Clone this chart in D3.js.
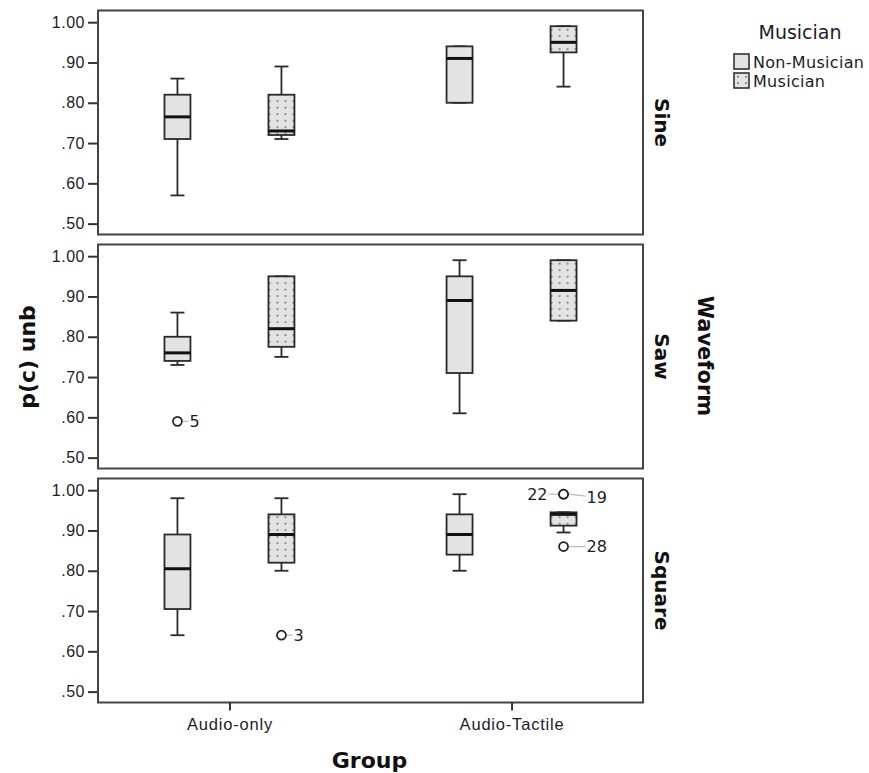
<!DOCTYPE html>
<html lang="en">
<head>
<meta charset="UTF-8">
<title>p(c) unb by Group, Musician and Waveform</title>
<script src="https://d3js.org/d3.v7.min.js"></script>
<style>
body { margin: 0; background: #fff; }
svg { display: block; font-family: "DejaVu Sans", sans-serif; }
.tick-label { font-size: 16px; fill: #1c1c2a; }
.x-label { font-size: 16.5px; letter-spacing: 0.8px; fill: #1c1c2a; }
.axis-title { font-size: 22px; font-weight: bold; fill: #111; }
.panel-title { font-size: 20px; font-weight: bold; fill: #111; }
</style>
</head>
<body>
<svg width="869" height="773"></svg>
<script>
// chart data
const waveforms = ["Sine", "Saw", "Square"];
const groups = ["Audio-only", "Audio-Tactile"];
const musicians = ["Non-Musician", "Musician"];
const yTicks = [0.5, 0.6, 0.7, 0.8, 0.9, 1.0];

// [low whisker, q1, median, q3, high whisker]
// order: Audio-only/Non-Musician, Audio-only/Musician, Audio-Tactile/Non-Musician, Audio-Tactile/Musician
const sineBoxes = [
  [0.57, 0.71, 0.765, 0.82, 0.86],
  [0.71, 0.72, 0.73, 0.82, 0.89],
  [0.80, 0.80, 0.91, 0.94, 0.94],
  [0.84, 0.925, 0.95, 0.99, 0.99]
];
const sawBoxes = [
  [0.73, 0.74, 0.76, 0.80, 0.86],
  [0.75, 0.775, 0.82, 0.95, 0.95],
  [0.61, 0.71, 0.89, 0.95, 0.99],
  [0.84, 0.84, 0.915, 0.99, 0.99]
];
const squareBoxes = [
  [0.64, 0.705, 0.805, 0.89, 0.98],
  [0.80, 0.82, 0.89, 0.94, 0.98],
  [0.80, 0.84, 0.89, 0.94, 0.99],
  [0.895, 0.912, 0.94, 0.945, 0.945]
];

// outliers: [cell index, value, case label, label side]
const sineOutliers = [];
const sawOutliers = [[0, 0.59, "5", "right"]];
const squareOutliers = [
  [1, 0.64, "3", "right"],
  [3, 0.99, "22", "left"],
  [3, 0.99, "19", "right"],
  [3, 0.86, "28", "right"]
];

const boxesByWave = { Sine: sineBoxes, Saw: sawBoxes, Square: squareBoxes };
const outliersByWave = { Sine: sineOutliers, Saw: sawOutliers, Square: squareOutliers };

const svg = d3.select("svg");

const frameLeft = 98, frameRight = 643;

// panels stacked vertically
const panelY = d3.scaleBand()
    .domain(waveforms)
    .range([10.5, 702.5])
    .paddingInner(0.0427);

const x = d3.scalePoint()
    .domain(groups)
    .range([frameLeft, frameRight])
    .padding(0.466);

const xSub = d3.scalePoint()
    .domain(musicians)
    .range([-52, 52]);

const boxWidth = 26, capWidth = 14;

// dotted fill for the Musician boxes
const defs = svg.append("defs");
const pat = defs.append("pattern")
    .attr("id", "dots")
    .attr("patternUnits", "userSpaceOnUse")
    .attr("width", 8)
    .attr("height", 6.5);
pat.append("rect").attr("width", 8).attr("height", 6.5).attr("fill", "#e3e3e3");
pat.append("rect").attr("x", 3).attr("y", 3).attr("width", 2).attr("height", 1.3).attr("fill", "#666");

const fillFor = m => m === "Musician" ? "url(#dots)" : "#e3e3e3";

waveforms.forEach(function(wave) {
  const top = panelY(wave), bottom = top + panelY.bandwidth();
  const y = d3.scaleLinear().domain([0.473, 1.029]).range([bottom, top]);
  const g = svg.append("g").attr("class", "panel");

  // y axis ticks
  const yAxis = d3.axisLeft(y)
      .tickValues(yTicks)
      .tickSize(10)
      .tickPadding(3)
      .tickFormat(d => d === 1 ? "1.00" : d3.format(".2f")(d).replace(/^0/, ""));
  const ya = g.append("g")
      .attr("transform", "translate(" + frameLeft + ",0)")
      .call(yAxis);
  ya.select(".domain").remove();
  ya.selectAll(".tick line").attr("stroke", "#333").attr("stroke-width", 2);
  ya.selectAll(".tick text")
      .attr("class", "tick-label")
      .attr("font-family", null)
      .attr("font-size", null)
      .attr("fill", null)
      .style("letter-spacing", "0.5px");

  // boxes
  const rows = boxesByWave[wave].map(function(s, i) {
    return { group: groups[Math.floor(i / 2)], musician: musicians[i % 2], s: s };
  });

  const cell = g.selectAll("g.box")
    .data(rows)
    .enter().append("g")
      .attr("class", "box")
      .attr("transform", d => "translate(" + (x(d.group) + xSub(d.musician)) + ",0)");

  cell.append("line")
      .attr("x1", 0).attr("x2", 0)
      .attr("y1", d => y(d.s[0])).attr("y2", d => y(d.s[4]))
      .attr("stroke", "#2a2a2a").attr("stroke-width", 1.8);

  cell.selectAll("line.cap")
    .data(d => [d.s[0], d.s[4]])
    .enter().append("line")
      .attr("class", "cap")
      .attr("x1", -capWidth / 2).attr("x2", capWidth / 2)
      .attr("y1", v => y(v)).attr("y2", v => y(v))
      .attr("stroke", "#2a2a2a").attr("stroke-width", 1.8);

  cell.append("rect")
      .attr("x", -boxWidth / 2)
      .attr("width", boxWidth)
      .attr("y", d => y(d.s[3]))
      .attr("height", d => Math.max(1, y(d.s[1]) - y(d.s[3])))
      .attr("fill", d => fillFor(d.musician))
      .attr("stroke", "#2a2a2a")
      .attr("stroke-width", 1.8);

  cell.append("line")
      .attr("x1", -boxWidth / 2).attr("x2", boxWidth / 2)
      .attr("y1", d => y(d.s[2])).attr("y2", d => y(d.s[2]))
      .attr("stroke", "#111").attr("stroke-width", 3);

  // outliers
  const outs = outliersByWave[wave].map(function(o) {
    return { group: groups[Math.floor(o[0] / 2)], musician: musicians[o[0] % 2], value: o[1], label: o[2], side: o[3] };
  });
  const og = g.selectAll("g.outlier")
    .data(outs)
    .enter().append("g")
      .attr("class", "outlier")
      .attr("transform", d => "translate(" + (x(d.group) + xSub(d.musician)) + "," + y(d.value) + ")");

  og.append("line")
      .attr("x1", d => d.side === "left" ? -5 : 5)
      .attr("x2", d => d.side === "left" ? -15 : (d.label.length > 1 ? 22 : 11))
      .attr("y1", 0).attr("y2", d => d.label === "19" ? 2 : 0)
      .attr("stroke", "#bbb").attr("stroke-width", 1.2);

  og.append("circle")
      .attr("r", 4.5)
      .attr("fill", "#fff")
      .attr("stroke", "#222")
      .attr("stroke-width", 1.7);

  og.append("text")
      .attr("class", "tick-label")
      .attr("x", d => d.side === "left" ? -16 : (d.label.length > 1 ? 23 : 12))
      .attr("y", d => d.label === "19" ? 3 : 0)
      .attr("dy", "0.35em")
      .attr("text-anchor", d => d.side === "left" ? "end" : "start")
      .text(d => d.label);

  // frame
  g.append("rect")
      .attr("x", frameLeft).attr("y", top)
      .attr("width", frameRight - frameLeft)
      .attr("height", bottom - top)
      .attr("fill", "none")
      .attr("stroke", "#444")
      .attr("stroke-width", 2);

  // panel title on the right
  const cy = (top + bottom) / 2;
  g.append("text")
      .attr("class", "panel-title")
      .attr("transform", "translate(662," + cy + ") rotate(90)")
      .attr("text-anchor", "middle")
      .attr("dy", "0.35em")
      .text(wave);
});

// x axis below the last panel
const lastBottom = panelY(waveforms[waveforms.length - 1]) + panelY.bandwidth();
const xa = svg.append("g")
    .attr("transform", "translate(0," + lastBottom + ")")
    .call(d3.axisBottom(x).tickSize(8).tickPadding(8));
xa.select(".domain").remove();
xa.selectAll(".tick line").attr("stroke", "#333").attr("stroke-width", 2);
xa.selectAll(".tick text")
    .attr("class", "x-label")
    .attr("font-family", null)
    .attr("font-size", null)
    .attr("fill", null);

// axis titles
svg.append("text")
    .attr("class", "axis-title")
    .attr("x", (frameLeft + frameRight) / 2 - 1)
    .attr("y", 768)
    .attr("text-anchor", "middle")
    .text("Group");

svg.append("text")
    .attr("class", "axis-title")
    .attr("transform", "translate(27,357) rotate(-90)")
    .attr("text-anchor", "middle")
    .attr("dy", "0.35em")
    .text("p(c) unb");

svg.append("text")
    .attr("class", "axis-title")
    .style("font-size", "21px")
    .attr("transform", "translate(705,356) rotate(90)")
    .attr("text-anchor", "middle")
    .attr("dy", "0.35em")
    .text("Waveform");

// legend
const legend = svg.append("g").attr("transform", "translate(734,0)");
legend.append("text")
    .attr("x", 66)
    .attr("y", 32)
    .attr("dy", "0.35em")
    .attr("text-anchor", "middle")
    .style("font-size", "19px")
    .attr("fill", "#1c1c2a")
    .text("Musician");

const item = legend.selectAll("g.item")
  .data(musicians)
  .enter().append("g")
    .attr("class", "item")
    .attr("transform", (d, i) => "translate(0," + (54 + i * 19) + ")");

item.append("rect")
    .attr("width", 15).attr("height", 15)
    .attr("fill", d => fillFor(d))
    .attr("stroke", "#333")
    .attr("stroke-width", 1.6);

item.append("text")
    .attr("class", "tick-label")
    .attr("x", 19)
    .attr("y", 8)
    .attr("dy", "0.35em")
    .style("letter-spacing", "0.3px")
    .text(d => d);
</script>
</body>
</html>
